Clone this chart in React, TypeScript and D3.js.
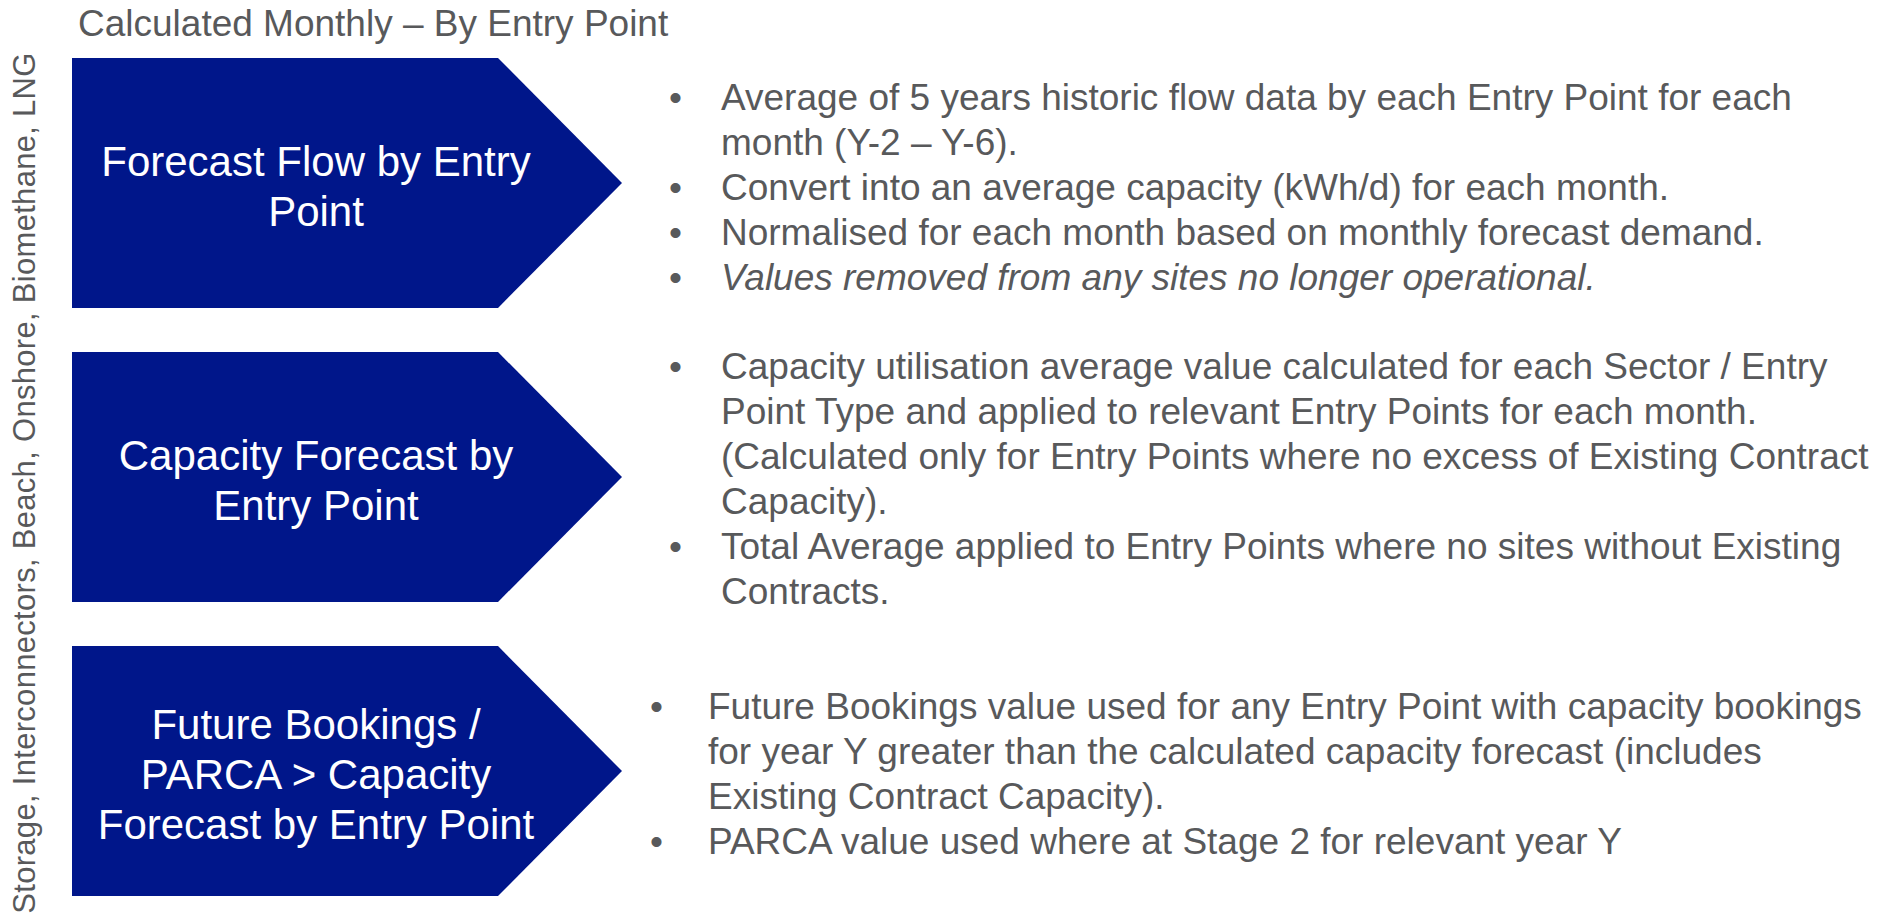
import React, { useRef, useEffect } from 'react';
import * as d3 from 'd3';

// text content of the diagram
const title = 'Calculated Monthly – By Entry Point';
const sideLabel = 'Storage, Interconnectors, Beach, Onshore, Biomethane, LNG';

const stages = ['flow', 'capacity', 'bookings'];
const stageLabels = [
  ['Forecast Flow by Entry', 'Point'],
  ['Capacity Forecast by', 'Entry Point'],
  ['Future Bookings /', 'PARCA > Capacity', 'Forecast by Entry Point'],
];

const flowNotes = [
  { lines: ['Average of 5 years historic flow data by each Entry Point for each', 'month (Y-2 – Y-6).'], italic: false },
  { lines: ['Convert into an average capacity (kWh/d) for each month.'], italic: false },
  { lines: ['Normalised for each month based on monthly forecast demand.'], italic: false },
  { lines: ['Values removed from any sites no longer operational.'], italic: true },
];
const capacityNotes = [
  {
    lines: [
      'Capacity utilisation average value calculated for each Sector / Entry',
      'Point Type and applied to relevant Entry Points for each month.',
      '(Calculated only for Entry Points where no excess of Existing Contract',
      'Capacity).',
    ],
    italic: false,
  },
  { lines: ['Total Average applied to Entry Points where no sites without Existing', 'Contracts.'], italic: false },
];
const bookingNotes = [
  {
    lines: [
      'Future Bookings value used for any Entry Point with capacity bookings',
      'for year Y greater than the calculated capacity forecast (includes',
      'Existing Contract Capacity).',
    ],
    italic: false,
  },
  { lines: ['PARCA value used where at Stage 2 for relevant year Y'], italic: false },
];
const stageNotes = [flowNotes, capacityNotes, bookingNotes];

// layout
const FONT = '"Liberation Sans", Arial, sans-serif';
const GREY = '#58595b';
const NAVY = '#00168a';
const BOX_LEFT = 72;
const BOX_BODY_RIGHT = 498;
const BOX_TIP = 622;
const LABEL_CENTER = 316;
const BULLET_X = [669, 669, 650];
const NOTE_X = [721, 721, 708];
const NOTE_SHIFT = [0, -3, -2];

function App() {
  const svgRef = useRef(null);

  useEffect(() => {
    const width = 1891;
    const height = 914;
    const svg = d3.select(svgRef.current).attr('width', width).attr('height', height);
    svg.selectAll('*').remove();

    const yScale = d3
      .scaleBand()
      .domain(stages)
      .range([58, 896])
      .paddingInner(0.15)
      .paddingOuter(0);

    // title
    svg
      .append('text')
      .attr('x', 78)
      .attr('y', 36)
      .attr('font-family', FONT)
      .attr('font-size', 37)
      .attr('fill', GREY)
      .text(title);

    // rotated side label
    svg
      .append('text')
      .attr('transform', `translate(35, ${(54 + 912) / 2}) rotate(-90)`)
      .attr('text-anchor', 'middle')
      .attr('font-family', FONT)
      .attr('font-size', 31)
      .attr('letter-spacing', 0.3)
      .attr('fill', GREY)
      .text(sideLabel);

    const arrow = d3.line();

    stages.forEach((stage, i) => {
      const top = yScale(stage);
      const bottom = top + yScale.bandwidth();
      const mid = top + yScale.bandwidth() / 2;

      // chevron box
      svg
        .append('path')
        .attr(
          'd',
          arrow([
            [BOX_LEFT, top],
            [BOX_BODY_RIGHT, top],
            [BOX_TIP, mid],
            [BOX_BODY_RIGHT, bottom],
            [BOX_LEFT, bottom],
          ]) + 'Z'
        )
        .attr('fill', NAVY);

      // box label
      const labels = stageLabels[i];
      svg
        .selectAll(`.label-${stage}`)
        .data(labels)
        .join('text')
        .attr('class', `label-${stage}`)
        .attr('x', LABEL_CENTER)
        .attr('y', (d, j) => mid + (j - (labels.length - 1) / 2) * 50 + 18)
        .attr('text-anchor', 'middle')
        .attr('font-family', FONT)
        .attr('font-size', 42)
        .attr('fill', '#ffffff')
        .text((d) => d);

      // bullet notes
      const rows = [];
      stageNotes[i].forEach((note) => {
        note.lines.forEach((line, k) => rows.push({ line, first: k === 0, italic: note.italic }));
      });
      const lineY = (j) => mid + (j - (rows.length - 1) / 2) * 45 + 17 + NOTE_SHIFT[i];

      const g = svg.append('g').attr('font-family', FONT).attr('font-size', 37).attr('fill', GREY);
      g.selectAll('.bullet')
        .data(rows.map((r, j) => ({ ...r, j })).filter((r) => r.first))
        .join('text')
        .attr('class', 'bullet')
        .attr('x', BULLET_X[i])
        .attr('y', (d) => lineY(d.j))
        .text('•');
      g.selectAll('.note')
        .data(rows)
        .join('text')
        .attr('class', 'note')
        .attr('x', NOTE_X[i])
        .attr('y', (d, j) => lineY(j))
        .attr('font-style', (d) => (d.italic ? 'italic' : 'normal'))
        .text((d) => d.line);
    });
  }, []);

  return <svg ref={svgRef} style={{ position: 'absolute', left: 0, top: 0, display: 'block' }} />;
}

export default App;
